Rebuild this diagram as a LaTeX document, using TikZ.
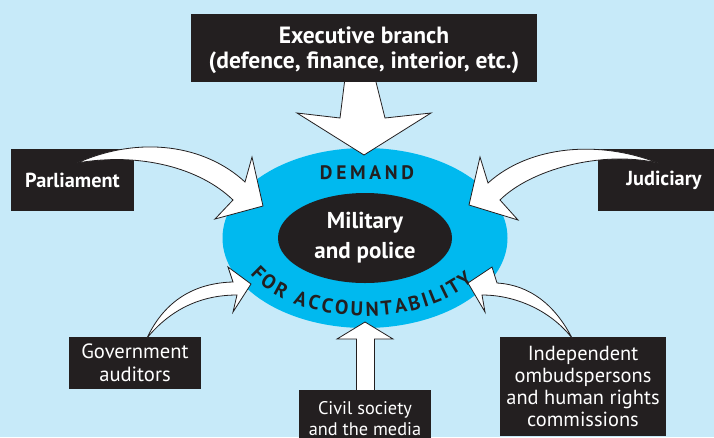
\documentclass[tikz,border=0pt]{standalone}
\usepackage{fontspec}
\setmainfont{PT Sans}
\usetikzlibrary{shapes.geometric,decorations.text}
\definecolor{bg}{HTML}{C7EAF9}
\definecolor{cyanell}{HTML}{00B9EF}
\definecolor{boxblack}{HTML}{231F20}
\begin{document}
\begin{tikzpicture}[x=1pt,y=1pt,
  box/.style={fill=boxblack, text=white, align=center, inner sep=0pt, anchor=center},
  blockarrow/.style={fill=white, draw=boxblack, line width=0.8pt, line join=miter},
  boldtxt/.style={font=\fontsize{20.3}{25}\selectfont\bfseries},
  regtxt/.style={font=\fontsize{20.6}{23}\selectfont}]

\fill[bg] (0,0) rectangle (714,-437);
\useasboundingbox (0,0) rectangle (714,-437);

% central ellipses
\node[ellipse, fill=cyanell, inner sep=0pt, minimum width=285pt, minimum height=180pt] (outer) at (365,-238) {};
\node[ellipse, fill=boxblack, inner sep=0pt, minimum width=174pt, minimum height=90pt,
      text=white, align=center, font=\fontsize{23}{30}\selectfont\bfseries] (core) at (365,-238) {Military\\and police};

\node[anchor=base, text=boxblack, inner sep=0pt,
      font=\fontsize{19.5}{19.5}\selectfont\bfseries\addfontfeatures{LetterSpace=19}] (demand) at (367,-179) {DEMAND};

\path[decorate, decoration={text along path,
      text={|\fontsize{20}{20}\selectfont\bfseries\color{boxblack}|FOR ACCOUNTABILITY},
      text align={fit to path}}]
  (outer.center) ++(208:130 and 78) arc[start angle=208, end angle=326.5, x radius=130pt, y radius=78pt];

% executive
\draw[blockarrow] (345,-78) -- (340,-118) -- (297,-113) -- (364,-155) -- (431,-113) -- (385,-118) -- (375,-78) -- cycle;
\node[box, minimum width=346pt, minimum height=68pt] (exec) at (364,-48) {};
\node[text=white, align=center, inner sep=0pt, font=\fontsize{23.5}{25}\selectfont\bfseries] (exectxt) at (364,-50) {Executive branch\\(defence, finance, interior, etc.)};

% parliament
\node[box, boldtxt, minimum width=123pt, minimum height=62pt] (parl) at (72.5,-180) {Parliament};
\draw[blockarrow] (77,-163) .. controls (140,-135) and (205,-145) .. (245,-182)
  -- (252,-157) -- (263,-206) -- (215,-219) -- (233,-200)
  .. controls (200,-168) and (140,-152) .. (77,-163) -- cycle;

% judiciary
\node[box, boldtxt, minimum width=132pt, minimum height=62pt] (jud) at (664,-180) {Judiciary};
\draw[blockarrow] (658,-163) .. controls (600,-140) and (530,-145) .. (488,-183)
  -- (480,-157) -- (469,-205) -- (518,-220) -- (500,-200)
  .. controls (530,-170) and (600,-150) .. (658,-163) -- cycle;

% government auditors
\node[box, regtxt, minimum width=132pt, minimum height=52pt] (aud) at (135,-363) {Government\\auditors};
\draw[blockarrow] (147,-338) .. controls (165,-300) and (195,-283) .. (233,-282)
  -- (228,-267) -- (251,-284) -- (233,-312) -- (237,-295)
  .. controls (200,-295) and (170,-310) .. (147,-338) -- cycle;

% civil society
\draw[blockarrow] (356.5,-393) -- (356.5,-339) -- (337,-339) -- (365,-322) -- (393,-339) -- (374.5,-339) -- (374.5,-393) -- cycle;
\node[box, minimum width=132pt, minimum height=56pt] (civbox) at (365,-418) {};
\node[text=white, align=center, inner sep=0pt, font=\fontsize{18.3}{21}\selectfont] (civ) at (365,-419) {Civil society\\and the media};

% ombudspersons
\node[box, font=\fontsize{20.4}{22}\selectfont, minimum width=166pt, minimum height=99pt] (omb) at (583,-386.5) {Independent\\ombudspersons\\and human rights\\commissions};
\draw[blockarrow] (572,-338) .. controls (555,-305) and (530,-285) .. (497,-283)
  -- (492,-267) -- (468,-283) -- (485,-312) -- (482,-295)
  .. controls (515,-295) and (550,-310) .. (572,-338) -- cycle;
\end{tikzpicture}
\end{document}
